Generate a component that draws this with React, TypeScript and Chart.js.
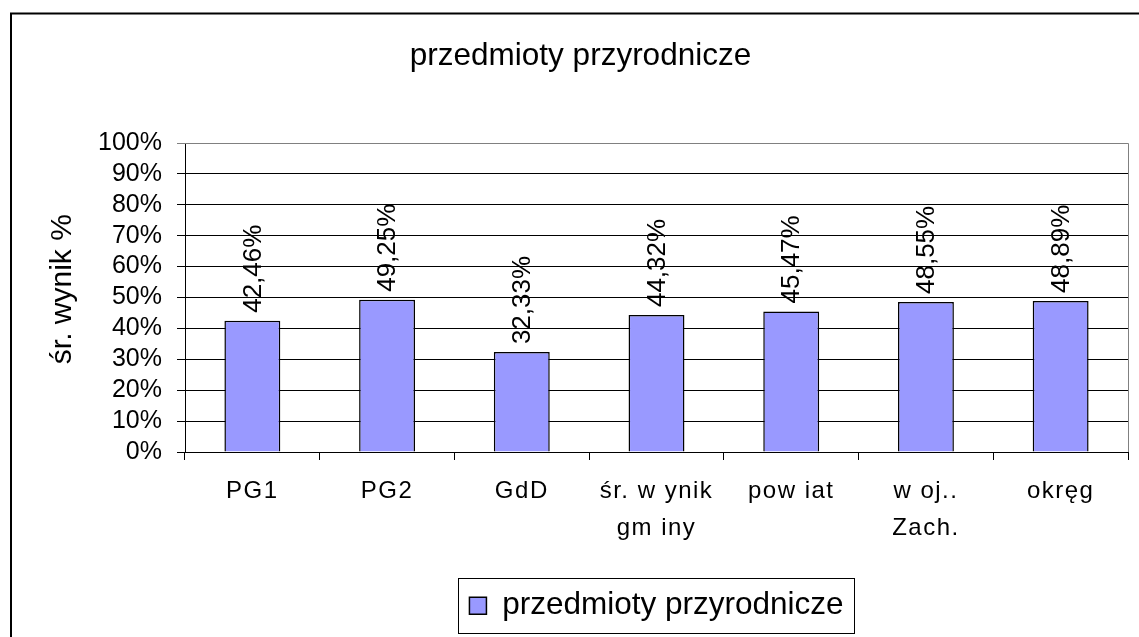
import { useEffect, useRef } from "react";
import { Chart, registerables } from "chart.js";

Chart.register(...registerables);

const chartTitle = "przedmioty przyrodnicze";
const seriesName = "przedmioty przyrodnicze";
const yAxisTitle = "  śr. wynik %";
const categories: (string | string[])[] = [
  "PG1",
  "PG2",
  "GdD",
  ["śr. w ynik", "gm iny"],
  "pow iat",
  ["w oj..", "Zach."],
  "okręg",
];
const values = [42.46, 49.25, 32.33, 44.32, 45.47, 48.55, 48.89];
const yMin = 0;
const yMax = 100;
const yStep = 10;

const FONT = "'Liberation Sans', Arial, sans-serif";

const fmtPct = (v: number) => v.toFixed(2).replace(".", ",") + "%";

const framePlugin = {
  id: "frame",
  beforeDraw(chart: any) {
    const ctx = chart.ctx;
    ctx.save();
    ctx.fillStyle = "#fff";
    ctx.fillRect(0, 0, chart.width, chart.height);
    ctx.strokeStyle = "#000";
    ctx.lineWidth = 2;
    ctx.strokeRect(3, 5.5, chart.width + 20, chart.height + 20);
    ctx.restore();
    const s = chart.scales && chart.scales.x;
    if (s && !s.__spaced) {
      const orig = s.drawLabels;
      s.drawLabels = function (area: any) {
        const c = this.ctx;
        c.save();
        try {
          (c as any).letterSpacing = "1.5px";
        } catch (e) {}
        orig.call(this, area);
        c.restore();
      };
      s.__spaced = true;
    }
  },
};

const plotBorderPlugin = {
  id: "plotBorder",
  afterDatasetsDraw(chart: any) {
    const { ctx, chartArea } = chart;
    ctx.save();
    ctx.strokeStyle = "#808080";
    ctx.lineWidth = 1;
    ctx.beginPath();
    ctx.moveTo(chartArea.left, chartArea.top + 0.5);
    ctx.lineTo(Math.round(chartArea.right) + 0.5, chartArea.top + 0.5);
    ctx.lineTo(Math.round(chartArea.right) + 0.5, chartArea.bottom);
    ctx.stroke();
    ctx.restore();
  },
};

const valueLabelPlugin = {
  id: "valueLabels",
  afterDatasetsDraw(chart: any) {
    const ctx = chart.ctx;
    const meta = chart.getDatasetMeta(0);
    const data = chart.data.datasets[0].data as number[];
    ctx.save();
    ctx.font = `26px ${FONT}`;
    ctx.fillStyle = "#000";
    ctx.textAlign = "left";
    ctx.textBaseline = "middle";
    meta.data.forEach((bar: any, i: number) => {
      ctx.save();
      ctx.translate(bar.x, bar.y - 8);
      ctx.rotate(-Math.PI / 2);
      ctx.fillText(fmtPct(data[i]), 0, 1);
      ctx.restore();
    });
    ctx.restore();
  },
};

const legendBoxPlugin = {
  id: "legendBox",
  afterDraw(chart: any) {
    const legend = chart.legend;
    if (!legend || !legend.legendHitBoxes || !legend.legendHitBoxes.length) return;
    const hb = legend.legendHitBoxes[0];
    const ctx = chart.ctx;
    const cy = hb.top + hb.height / 2;
    ctx.save();
    ctx.strokeStyle = "#000";
    ctx.lineWidth = 1;
    const left = Math.round(hb.left - 11) + 0.5;
    const right = Math.round(hb.left + hb.width + 10) + 0.5;
    const top = Math.round(cy - 27.5) + 0.5;
    const bottom = Math.round(cy + 27.5) + 0.5;
    ctx.strokeRect(left, top, right - left, bottom - top);
    ctx.restore();
  },
};

export default function App() {
  const ref = useRef<HTMLCanvasElement | null>(null);

  useEffect(() => {
    if (!ref.current) return;
    const chart = new Chart(ref.current, {
      type: "bar",
      data: {
        labels: categories,
        datasets: [
          {
            label: seriesName,
            data: values,
            backgroundColor: "#9999FF",
            borderColor: "#000",
            borderWidth: 1.5,
            barPercentage: 0.415,
            categoryPercentage: 1,
          },
        ],
      },
      options: {
        animation: false,
        responsive: false,
        maintainAspectRatio: false,
        devicePixelRatio: 1,
        layout: { padding: { left: 0, right: 0, top: 0, bottom: 16.5 } },
        plugins: {
          tooltip: { enabled: false },
          title: {
            display: true,
            text: chartTitle,
            color: "#000",
            font: { family: FONT, size: 31.5, weight: "normal", lineHeight: 1.2 },
            padding: { top: 29, bottom: 68.2 },
          },
          legend: {
            display: true,
            position: "bottom",
            fullSize: false,
            labels: {
              color: "#000",
              font: { family: FONT, size: 31.5 },
              boxWidth: 17,
              boxHeight: 17,
              padding: 10,
            },
          },
        },
        scales: {
          x: {
            grid: {
              display: true,
              drawOnChartArea: false,
              drawTicks: true,
              tickLength: 8,
              color: "#000",
              offset: true,
            },
            border: { color: "#000", width: 1 },
            ticks: {
              color: "#000",
              font: { family: FONT, size: 24, lineHeight: 1.54 },
              padding: 13,
              maxRotation: 0,
              minRotation: 0,
              autoSkip: false,
            },
            afterFit: (s: any) => {
              s.height = 128;
            },
          },
          y: {
            min: yMin,
            max: yMax,
            ticks: {
              stepSize: yStep,
              autoSkip: false,
              color: "#000",
              font: { family: FONT, size: 25 },
              padding: 15,
              callback: (v: any) => v + "%",
            },
            grid: {
              color: (c: any) => (c.tick && c.tick.value === yMax ? "#808080" : "#000"),
              tickLength: 8,
              lineWidth: 1,
            },
            border: { color: "#000", width: 1 },
            title: {
              display: true,
              text: yAxisTitle,
              color: "#000",
              font: { family: FONT, size: 30, lineHeight: 1.2 },
              padding: { top: 37, bottom: 0 },
            },
            afterFit: (s: any) => {
              s.width = 177;
            },
          },
          yRight: {
            position: "right",
            display: true,
            min: yMin,
            max: yMax,
            ticks: { display: false },
            grid: { display: false, drawTicks: false },
            border: { display: false },
            afterFit: (s: any) => {
              s.width = 25;
            },
          },
        },
      },
      plugins: [framePlugin, plotBorderPlugin, valueLabelPlugin, legendBoxPlugin],
    });
    return () => chart.destroy();
  }, []);

  return (
    <div
      style={{
        position: "fixed",
        left: 8,
        top: 8,
        width: 1131,
        height: 629,
        overflow: "hidden",
      }}
    >
      <canvas ref={ref} width={1145} height={640} style={{ display: "block" }} />
    </div>
  );
}
